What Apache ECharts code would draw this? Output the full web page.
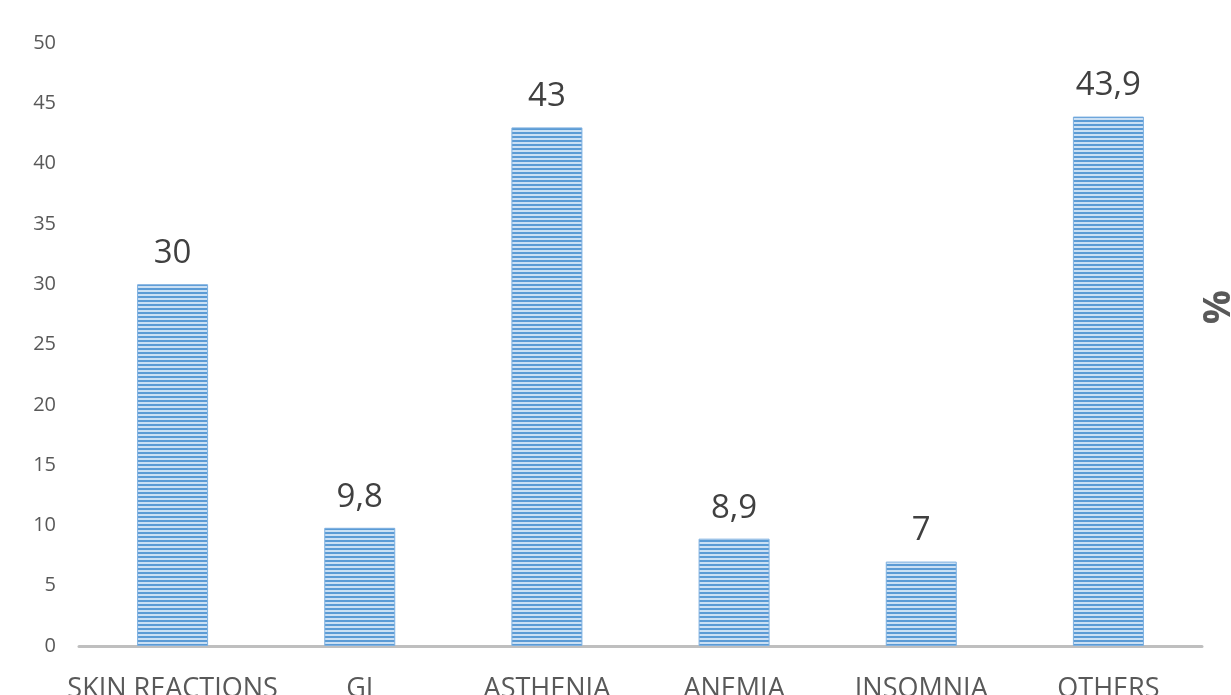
<!DOCTYPE html>
<html><head><meta charset="utf-8">
<script src="https://cdn.jsdelivr.net/npm/echarts@6/dist/echarts.min.js"></script>
<style>html,body{margin:0;padding:0;background:#fff;overflow:hidden}#c{width:1231px;height:695px}</style>
</head><body><div id="c"></div>
<script>
const categories = ['SKIN REACTIONS','GI','ASTHENIA','ANEMIA','INSOMNIA','OTHERS'];
const values = [30, 9.8, 43, 8.9, 7, 43.9];
const yTicks = {min:0, max:50, interval:5};

function makePattern(){
  const c = document.createElement('canvas');
  c.width = 4; c.height = 4;
  const g = c.getContext('2d');
  g.fillStyle = '#cbe0f4'; g.fillRect(0,0,4,4);
  g.fillStyle = '#5b9bd5'; g.fillRect(0,0,4,2);
  return c;
}
const chart = echarts.init(document.getElementById('c'));
chart.setOption({
  animation:false,
  grid:{left:79, right:29, top:43, bottom:49, containLabel:false, outerBoundsMode:'none'},
  xAxis:{type:'category', data:categories,
    axisLine:{lineStyle:{color:'#bfbfbf', width:3}},
    axisTick:{show:false},
    axisLabel:{color:'#595959', fontSize:27, fontFamily:'Open Sans', margin:30, interval:0}},
  yAxis:{type:'value', min:yTicks.min, max:yTicks.max, interval:yTicks.interval,
    axisLine:{show:false}, axisTick:{show:false}, splitLine:{show:false},
    axisLabel:{color:'#595959', fontSize:20, fontFamily:'Open Sans', margin:23}},
  series:[{type:'bar', data:values, barWidth:71,
    itemStyle:{color:{image:makePattern(), repeat:'repeat'}, borderColor:'#7eb0e0', borderWidth:1},
    label:{show:true, position:'top', distance:14, color:'#404040', fontSize:33, fontFamily:'Open Sans',
      formatter:p=>String(p.value).replace('.',',')}}],
  graphic:[{type:'text', left:1200, top:290, rotation:Math.PI/2,
    style:{text:'%', font:'bold 38px "Open Sans"', fill:'#595959'}}]
});
</script></body></html>
